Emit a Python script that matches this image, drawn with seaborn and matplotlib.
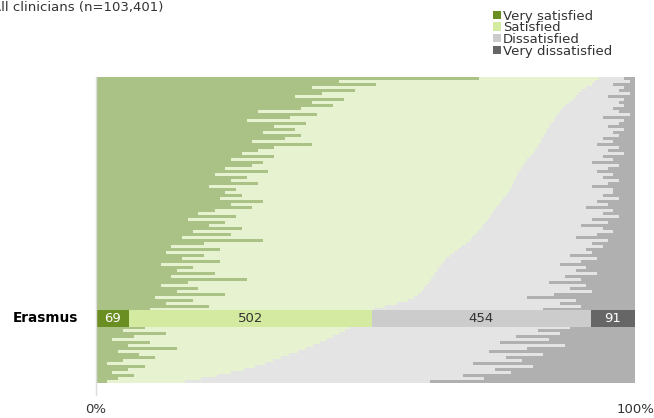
import pandas as pd
import seaborn as sns
import matplotlib.pyplot as plt
from matplotlib.patches import Patch
import matplotlib.transforms as mtransforms

# Share of clinicians per hospital (%), sorted by positive share
# hospitals ranked above Erasmus
above_very_satisfied = [71, 45, 52, 40, 48, 42, 37, 46, 40, 44, 38,
                        30, 41, 36, 28, 39, 33, 37, 31, 38, 35, 29, 40, 33, 30,
                        27, 33, 25, 31, 29, 24, 32, 22, 28, 25, 30, 21, 26, 24,
                        27, 23, 31, 25, 29, 22, 19, 26, 17, 24, 21, 27, 18,
                        25, 16, 31, 20, 14, 23, 13, 20, 16, 23, 12, 18, 15,
                        22, 14, 28, 17, 12, 19, 15, 24, 11, 18, 13, 21, 10]
above_positive = [93.3, 92.6, 92.0, 91.0, 90.0, 89.5, 89.0, 88.5, 87.8, 87.1, 86.4,
                  86.0, 85.6, 85.2, 85.0, 84.5, 84.1, 83.7, 83.4, 83.1, 82.8, 82.5,
                  82.1, 81.8, 81.4, 81.0, 80.5, 80.0, 79.6, 79.2, 78.9, 78.5, 78.2,
                  77.9, 77.6, 77.3, 77.1, 76.8, 76.4, 76.0, 75.6, 75.2, 74.8, 74.3,
                  73.9, 73.5, 73.1, 72.7, 72.2, 71.8, 71.4, 70.9, 70.4, 69.8, 69.3,
                  68.6, 67.8, 67.1, 66.4, 65.7, 65.0, 64.5, 64.1, 63.7, 63.3, 62.9,
                  62.5, 62.1, 61.7, 61.3, 60.9, 60.4, 59.8, 59.0, 57.8, 55.8, 53.6, 51.6]
above_very_dissatisfied = [2, 1, 4, 2, 3, 1, 5, 2, 3, 2, 4, 3, 1, 6, 2, 3, 5, 2, 4, 3, 6,
                           4, 7, 3, 5, 2, 6, 4, 8, 3, 5, 7, 4, 6, 3, 5, 8, 4,
                           4, 6, 3, 7, 5, 9, 4, 6, 3, 8, 5, 10, 6, 4, 7, 11, 5, 8, 6, 9,
                           8, 12, 7, 10, 14, 9, 11, 7, 13, 10, 16, 9, 12, 8, 15, 20, 11, 14, 10, 17]

# hospitals ranked below Erasmus
below_very_satisfied = [9, 5, 13, 7, 3, 10, 6, 15, 4, 8, 11, 5, 2, 9, 6, 3, 7, 4, 2]
below_positive = [47.2, 46.2, 45.0, 43.9, 42.8, 41.6, 40.3, 39.0, 37.5, 35.8,
                  34.3, 32.8, 31.3, 29.5, 27.4, 25.0, 22.5, 19.5, 16.5]
below_very_dissatisfied = [12, 18, 14, 22, 16, 25, 13, 20, 27, 17, 24, 21, 30, 19, 26, 23, 32, 28, 38]

# Erasmus (respondent counts)
erasmus_counts = [69, 502, 454, 91]
categories = ['Very satisfied', 'Satisfied', 'Dissatisfied', 'Very dissatisfied']

strong = ['#6b8e23', '#d3eaa0', '#cccccc', '#666666']
faded = ['#abc287', '#e6f2d0', '#e4e4e4', '#b0b0b0']

n_above = len(above_positive)
n_below = len(below_positive)
n_gap = 5

names_above = [f'a{i}' for i in range(n_above)]
names_below = [f'b{i}' for i in range(n_below)]
gaps = [f'gap{i}' for i in range(n_gap)]
order = names_above + gaps + names_below

df = pd.DataFrame({
    'hospital': names_above + names_below,
    'vs': above_very_satisfied + below_very_satisfied,
    'pos': above_positive + below_positive,
    'vd': above_very_dissatisfied + below_very_dissatisfied,
})
df['neg_start'] = 100 - df['vd']
df['total'] = 100.0

sns.set_style('white')
plt.rcParams['font.family'] = ['DejaVu Sans']

fig = plt.figure(figsize=(6.54, 4.18), dpi=100)
ax = fig.add_axes([96 / 654, 1 - 395 / 418, 539 / 654, 318 / 418])

# stacked bars drawn as cumulative layers, widest first
for col, c in zip(['total', 'neg_start', 'pos', 'vs'], faded[::-1]):
    sns.barplot(data=df, x=col, y='hospital', order=order, orient='y',
                color=c, saturation=1, width=0.85, errorbar=None,
                linewidth=0, ax=ax)

# Erasmus highlighted
centre = n_above + (n_gap - 1) / 2
left = 0
tot = sum(erasmus_counts)
for cnt, c, tc in zip(erasmus_counts, strong, ['white', '#333333', '#333333', 'white']):
    w = cnt / tot * 100
    ax.barh(centre, w, left=left, height=5.67, color=c, linewidth=0)
    ax.text(left + w / 2, centre, str(cnt), ha='center', va='center',
            fontsize=9.5, color=tc)
    left += w

ax.text(-0.033, centre, 'Erasmus', transform=mtransforms.blended_transform_factory(ax.transAxes, ax.transData),
        ha='right', va='center', fontsize=9.8, fontweight='bold', color='black')

ax.set_xlim(0, 100)
ax.set_ylim(len(order) - 0.5 + 4, -0.5)
ax.set_xticks([0, 100])
ax.set_xticklabels(['0%', '100%'], fontsize=9.5, color='#333333')
ax.tick_params(axis='x', length=0, pad=6)
ax.set_yticks([])
ax.set_xlabel('')
ax.set_ylabel('')
for s in ['top', 'right', 'bottom']:
    ax.spines[s].set_visible(False)
ax.spines['left'].set_color('#dddddd')
ax.spines['left'].set_linewidth(1)

fig.text(-8 / 654, 1 - 1 / 418, 'All clinicians (n=103,401)', ha='left', va='top',
         fontsize=9.5, color='#333333')

handles = [Patch(facecolor=c, edgecolor='none') for c in strong]
fig.legend(handles, categories, loc='upper left', bbox_to_anchor=(486 / 654, 1 - 3 / 418),
           frameon=False, fontsize=9.5, handlelength=0.6, handleheight=0.6,
           handletextpad=0.2, labelspacing=-0.1, borderpad=0, labelcolor='#333333')

plt.savefig('out.png', dpi=100)
